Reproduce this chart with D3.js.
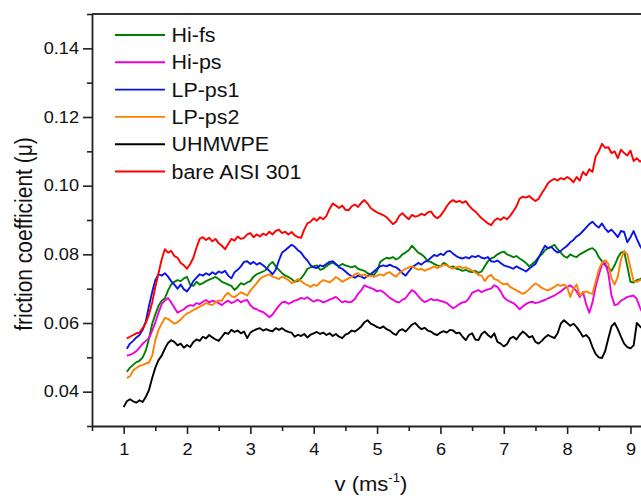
<!DOCTYPE html>
<html>
<head>
<meta charset="utf-8">
<script src="https://cdn.jsdelivr.net/npm/d3@7"></script>
<style>
  body { margin: 0; background: #fff; }
  svg { display: block; font-family: "Liberation Sans", Arial, sans-serif; }
</style>
</head>
<body>
<svg id="chart" width="641" height="496"></svg>
<script>
// sliding speed grid (ms-1): 1.00 .. 9.20, one reading every 0.05
const speed = d3.range(0, 165).map(i => +(1 + i * 0.05).toFixed(2));

const seriesNames = ["Hi-fs", "Hi-ps", "LP-ps1", "LP-ps2", "UHMWPE", "bare AISI 301"];
const seriesColors = ["#008000", "#ee00dd", "#0a14e6", "#ff8000", "#000000", "#ff0000"];

const xTicks = [1, 2, 3, 4, 5, 6, 7, 8, 9];
const xMinor = [0.5, 1.5, 2.5, 3.5, 4.5, 5.5, 6.5, 7.5, 8.5, 9.5];
const yTicks = [0.04, 0.06, 0.08, 0.10, 0.12, 0.14];
const yMinor = [0.03, 0.05, 0.07, 0.09, 0.11, 0.13, 0.15];

// friction coefficient (first slot is v = 1.00, null where no data)
const hiFs = [null,
  0.0458,0.0470,0.0478,0.0486,0.0490,0.0500,0.0520,0.0555,0.0598,0.0625,
  0.0650,0.0665,0.0672,0.0695,0.0712,0.0720,0.0725,0.0722,0.0730,0.0734,
  0.0712,0.0708,0.0720,0.0712,0.0716,0.0722,0.0726,0.0730,0.0734,0.0728,
  0.0720,0.0716,0.0712,0.0708,0.0696,0.0705,0.0716,0.0712,0.0718,0.0722,
  0.0735,0.0742,0.0746,0.0750,0.0755,0.0770,0.0778,0.0765,0.0755,0.0745,
  0.0738,0.0734,0.0728,0.0720,0.0722,0.0730,0.0742,0.0758,0.0762,0.0765,
  0.0768,0.0755,0.0758,0.0765,0.0772,0.0776,0.0770,0.0766,0.0772,0.0768,
  0.0765,0.0762,0.0766,0.0758,0.0755,0.0752,0.0745,0.0742,0.0740,0.0752,
  0.0778,0.0785,0.0790,0.0788,0.0792,0.0785,0.0790,0.0800,0.0805,0.0812,
  0.0825,0.0815,0.0805,0.0800,0.0792,0.0780,0.0778,0.0772,0.0768,0.0765,
  0.0775,0.0770,0.0762,0.0765,0.0758,0.0756,0.0752,0.0755,0.0750,0.0748,
  0.0752,0.0746,0.0750,0.0765,0.0780,0.0788,0.0792,0.0800,0.0805,0.0808,
  0.0800,0.0796,0.0792,0.0795,0.0788,0.0782,0.0775,0.0765,0.0772,0.0780,
  0.0792,0.0800,0.0812,0.0818,0.0822,0.0828,0.0815,0.0805,0.0795,0.0790,
  0.0800,0.0795,0.0792,0.0800,0.0805,0.0810,0.0815,0.0818,0.0810,0.0792,
  0.0780,0.0768,0.0760,0.0752,0.0768,0.0790,0.0805,0.0808,0.0765,0.0720,
  0.0718,0.0725,0.0728,0.0732];

const hiPs = [null,
  0.0505,0.0507,0.0512,0.0518,0.0528,0.0540,0.0548,0.0556,0.0578,0.0602,
  0.0630,0.0655,0.0665,0.0673,0.0660,0.0645,0.0630,0.0635,0.0640,0.0648,
  0.0652,0.0650,0.0658,0.0655,0.0662,0.0667,0.0660,0.0665,0.0662,0.0658,
  0.0652,0.0660,0.0665,0.0658,0.0662,0.0668,0.0660,0.0665,0.0667,0.0652,
  0.0643,0.0640,0.0635,0.0632,0.0625,0.0617,0.0625,0.0638,0.0650,0.0660,
  0.0662,0.0656,0.0660,0.0665,0.0668,0.0673,0.0670,0.0675,0.0668,0.0662,
  0.0667,0.0665,0.0660,0.0664,0.0668,0.0672,0.0676,0.0668,0.0660,0.0664,
  0.0660,0.0662,0.0670,0.0685,0.0695,0.0710,0.0705,0.0702,0.0698,0.0692,
  0.0695,0.0690,0.0682,0.0673,0.0668,0.0662,0.0660,0.0668,0.0672,0.0685,
  0.0696,0.0690,0.0678,0.0668,0.0661,0.0665,0.0670,0.0666,0.0668,0.0664,
  0.0662,0.0658,0.0650,0.0643,0.0648,0.0655,0.0660,0.0662,0.0672,0.0688,
  0.0692,0.0696,0.0690,0.0694,0.0698,0.0700,0.0710,0.0705,0.0692,0.0675,
  0.0667,0.0662,0.0658,0.0650,0.0640,0.0648,0.0655,0.0660,0.0662,0.0658,
  0.0660,0.0664,0.0667,0.0672,0.0676,0.0680,0.0686,0.0692,0.0700,0.0705,
  0.0710,0.0702,0.0692,0.0676,0.0690,0.0655,0.0630,0.0660,0.0705,0.0740,
  0.0770,0.0775,0.0745,0.0680,0.0652,0.0655,0.0665,0.0670,0.0676,0.0678,
  0.0680,0.0670,0.0645,0.0625];

const lpPs1 = [null,
  0.0525,0.0540,0.0548,0.0558,0.0565,0.0580,0.0605,0.0650,0.0690,0.0725,
  0.0742,0.0738,0.0745,0.0735,0.0722,0.0712,0.0700,0.0712,0.0698,0.0692,
  0.0705,0.0722,0.0732,0.0742,0.0738,0.0745,0.0740,0.0748,0.0742,0.0750,
  0.0746,0.0752,0.0738,0.0730,0.0748,0.0755,0.0765,0.0778,0.0780,0.0772,
  0.0778,0.0770,0.0775,0.0768,0.0760,0.0752,0.0742,0.0755,0.0782,0.0805,
  0.0812,0.0820,0.0828,0.0822,0.0812,0.0805,0.0792,0.0782,0.0768,0.0762,
  0.0760,0.0768,0.0765,0.0772,0.0778,0.0780,0.0772,0.0762,0.0758,0.0750,
  0.0742,0.0736,0.0732,0.0738,0.0735,0.0730,0.0738,0.0742,0.0750,0.0758,
  0.0765,0.0768,0.0765,0.0770,0.0765,0.0762,0.0755,0.0745,0.0738,0.0750,
  0.0762,0.0768,0.0775,0.0770,0.0778,0.0782,0.0790,0.0798,0.0795,0.0802,
  0.0798,0.0808,0.0810,0.0802,0.0795,0.0790,0.0788,0.0792,0.0788,0.0795,
  0.0792,0.0796,0.0790,0.0788,0.0792,0.0780,0.0778,0.0782,0.0775,0.0768,
  0.0765,0.0762,0.0758,0.0765,0.0760,0.0755,0.0750,0.0758,0.0765,0.0772,
  0.0790,0.0808,0.0825,0.0818,0.0822,0.0812,0.0805,0.0810,0.0818,0.0825,
  0.0835,0.0842,0.0852,0.0858,0.0868,0.0878,0.0888,0.0895,0.0885,0.0878,
  0.0890,0.0875,0.0865,0.0872,0.0862,0.0850,0.0868,0.0865,0.0835,0.0850,
  0.0868,0.0845,0.0825,0.0810];

const lpPs2 = [null,
  0.0440,0.0445,0.0462,0.0469,0.0475,0.0478,0.0482,0.0485,0.0505,0.0550,
  0.0580,0.0598,0.0615,0.0612,0.0605,0.0598,0.0602,0.0610,0.0620,0.0628,
  0.0632,0.0638,0.0642,0.0648,0.0652,0.0658,0.0655,0.0652,0.0660,0.0666,
  0.0665,0.0680,0.0688,0.0678,0.0675,0.0682,0.0690,0.0685,0.0680,0.0695,
  0.0705,0.0716,0.0728,0.0735,0.0738,0.0742,0.0735,0.0732,0.0728,0.0735,
  0.0731,0.0725,0.0716,0.0720,0.0728,0.0722,0.0715,0.0710,0.0705,0.0712,
  0.0708,0.0718,0.0725,0.0722,0.0718,0.0725,0.0734,0.0728,0.0720,0.0725,
  0.0730,0.0735,0.0742,0.0745,0.0738,0.0742,0.0735,0.0738,0.0734,0.0738,
  0.0742,0.0738,0.0745,0.0748,0.0740,0.0735,0.0745,0.0752,0.0758,0.0762,
  0.0765,0.0760,0.0755,0.0758,0.0752,0.0756,0.0760,0.0765,0.0760,0.0765,
  0.0770,0.0768,0.0762,0.0758,0.0762,0.0765,0.0760,0.0762,0.0758,0.0752,
  0.0748,0.0740,0.0738,0.0722,0.0735,0.0740,0.0728,0.0725,0.0718,0.0712,
  0.0715,0.0705,0.0700,0.0695,0.0690,0.0685,0.0690,0.0698,0.0708,0.0715,
  0.0710,0.0702,0.0698,0.0695,0.0700,0.0705,0.0712,0.0708,0.0712,0.0705,
  0.0676,0.0700,0.0712,0.0680,0.0688,0.0692,0.0688,0.0685,0.0720,0.0755,
  0.0775,0.0783,0.0772,0.0730,0.0712,0.0735,0.0785,0.0810,0.0800,0.0760,
  0.0722,0.0720,0.0725,0.0728];

const uhmwpe = [0.0355,
  0.0372,0.0378,0.0372,0.0368,0.0375,0.0370,0.0385,0.0405,0.0440,0.0470,
  0.0492,0.0505,0.0525,0.0542,0.0550,0.0545,0.0535,0.0540,0.0528,0.0536,
  0.0530,0.0545,0.0552,0.0548,0.0560,0.0555,0.0565,0.0558,0.0552,0.0548,
  0.0560,0.0572,0.0568,0.0580,0.0574,0.0578,0.0570,0.0575,0.0556,0.0572,
  0.0578,0.0582,0.0585,0.0578,0.0582,0.0578,0.0576,0.0585,0.0580,0.0585,
  0.0578,0.0574,0.0572,0.0560,0.0566,0.0562,0.0568,0.0558,0.0566,0.0570,
  0.0574,0.0568,0.0572,0.0565,0.0570,0.0562,0.0568,0.0560,0.0556,0.0566,
  0.0570,0.0578,0.0575,0.0582,0.0590,0.0602,0.0608,0.0598,0.0594,0.0588,
  0.0585,0.0590,0.0582,0.0578,0.0570,0.0565,0.0578,0.0582,0.0575,0.0585,
  0.0595,0.0600,0.0590,0.0582,0.0586,0.0578,0.0575,0.0568,0.0565,0.0572,
  0.0576,0.0572,0.0580,0.0578,0.0570,0.0572,0.0560,0.0550,0.0565,0.0570,
  0.0552,0.0550,0.0568,0.0575,0.0565,0.0558,0.0570,0.0545,0.0540,0.0532,
  0.0538,0.0555,0.0560,0.0552,0.0565,0.0575,0.0568,0.0558,0.0562,0.0545,
  0.0540,0.0548,0.0558,0.0565,0.0560,0.0556,0.0570,0.0598,0.0608,0.0600,
  0.0592,0.0598,0.0588,0.0575,0.0560,0.0565,0.0555,0.0530,0.0510,0.0500,
  0.0498,0.0518,0.0555,0.0590,0.0600,0.0582,0.0560,0.0540,0.0530,0.0526,
  0.0535,0.0600,0.0590,0.0582];

const bareAisi301 = [null,
  0.0555,0.0560,0.0565,0.0570,0.0572,0.0585,0.0600,0.0625,0.0660,0.0705,
  0.0745,0.0785,0.0815,0.0805,0.0810,0.0795,0.0790,0.0775,0.0768,0.0758,
  0.0772,0.0790,0.0820,0.0845,0.0850,0.0842,0.0848,0.0838,0.0845,0.0832,
  0.0825,0.0815,0.0830,0.0845,0.0840,0.0852,0.0845,0.0848,0.0858,0.0862,
  0.0850,0.0858,0.0852,0.0860,0.0856,0.0866,0.0858,0.0868,0.0872,0.0862,
  0.0866,0.0858,0.0865,0.0855,0.0850,0.0848,0.0872,0.0890,0.0895,0.0905,
  0.0898,0.0908,0.0902,0.0912,0.0932,0.0948,0.0942,0.0935,0.0942,0.0930,
  0.0928,0.0940,0.0945,0.0938,0.0950,0.0958,0.0948,0.0935,0.0928,0.0922,
  0.0918,0.0914,0.0908,0.0898,0.0888,0.0895,0.0912,0.0920,0.0910,0.0902,
  0.0915,0.0910,0.0912,0.0918,0.0914,0.0922,0.0925,0.0912,0.0905,0.0912,
  0.0925,0.0940,0.0952,0.0958,0.0952,0.0956,0.0950,0.0955,0.0942,0.0932,
  0.0925,0.0915,0.0905,0.0898,0.0890,0.0885,0.0898,0.0905,0.0900,0.0908,
  0.0902,0.0912,0.0925,0.0940,0.0962,0.0968,0.0965,0.0970,0.0962,0.0955,
  0.0962,0.0978,0.0992,0.1008,0.1015,0.1020,0.1015,0.1022,0.1018,0.1025,
  0.1020,0.1010,0.1025,0.1015,0.1040,0.1030,0.1048,0.1040,0.1085,0.1100,
  0.1122,0.1110,0.1112,0.1095,0.1100,0.1080,0.1105,0.1095,0.1088,0.1102,
  0.1072,0.1080,0.1070,0.1075];

const seriesValues = [hiFs, hiPs, lpPs1, lpPs2, uhmwpe, bareAisi301];

// layout
const plotLeft = 92, plotTop = 14, plotBottom = 426;
const stretch = 1.1; // the original artwork is slightly wider than tall

const svg = d3.select("#chart");

const x = d3.scaleLinear().domain([0.5, 9.5]).range([plotLeft, plotLeft + 9 * 63.35]);
const y = d3.scaleLinear().domain([0.03, 0.15]).range([plotBottom, plotTop]);

// frame: top line
svg.append("line")
  .attr("x1", plotLeft).attr("x2", x(9.5))
  .attr("y1", plotTop).attr("y2", plotTop)
  .attr("stroke", "#333").attr("stroke-width", 1.8);

// minor ticks first
svg.append("g")
  .attr("transform", "translate(0," + plotBottom + ")")
  .call(d3.axisBottom(x).tickValues(xMinor).tickSize(5).tickFormat(""))
  .call(g => g.select(".domain").remove());
svg.append("g")
  .attr("transform", "translate(" + plotLeft + ",0)")
  .call(d3.axisLeft(y).tickValues(yMinor).tickSize(5).tickFormat(""))
  .call(g => g.select(".domain").remove());

// major axes
let xAxis = svg.append("g")
  .attr("transform", "translate(0," + plotBottom + ")")
  .call(d3.axisBottom(x).tickValues(xTicks).tickSize(8).tickSizeOuter(0).tickFormat(d3.format("d")));
let yAxis = svg.append("g")
  .attr("transform", "translate(" + plotLeft + ",0)")
  .call(d3.axisLeft(y).tickValues(yTicks).tickSize(9).tickSizeOuter(0).tickFormat(d3.format(".2f")));

svg.selectAll(".tick line").attr("stroke", "#222").attr("stroke-width", 1.6);
svg.selectAll(".domain").attr("stroke", "#222").attr("stroke-width", 1.8);

xAxis.selectAll("text")
  .attr("y", 17)
  .attr("font-size", 16.5)
  .attr("fill", "#111")
  .attr("font-family", "Liberation Sans, Arial, sans-serif")
  .attr("transform", "scale(" + stretch + ",1)");
yAxis.selectAll("text")
  .attr("x", -13 / stretch)
  .attr("font-size", 16.5)
  .attr("fill", "#111")
  .attr("font-family", "Liberation Sans, Arial, sans-serif")
  .attr("transform", "scale(" + stretch + ",1)");

// data lines
svg.append("clipPath").attr("id", "plotClip")
  .append("rect")
  .attr("x", plotLeft).attr("y", plotTop)
  .attr("width", x(9.5) - plotLeft).attr("height", plotBottom - plotTop);

const line = d3.line()
  .defined(d => d[1] != null)
  .x(d => x(d[0]))
  .y(d => y(d[1]));

svg.append("g").attr("clip-path", "url(#plotClip)")
  .selectAll("path")
  .data(seriesValues)
  .join("path")
  .attr("d", vals => line(speed.map((v, i) => [v, vals[i]])))
  .attr("fill", "none")
  .attr("stroke", (d, i) => seriesColors[i])
  .attr("stroke-width", 1.9)
  .attr("stroke-linejoin", "round");

// legend
const legend = svg.append("g");
seriesNames.forEach((name, i) => {
  let ly = 35 + i * 27.3;
  legend.append("line")
    .attr("x1", 115).attr("x2", 165)
    .attr("y1", ly).attr("y2", ly)
    .attr("stroke", seriesColors[i]).attr("stroke-width", 1.9);
  legend.append("text")
    .attr("transform", "translate(171.5," + ly + ") scale(" + stretch + ",1)")
    .attr("dy", "0.36em")
    .attr("font-size", 19.5)
    .attr("fill", "#111")
    .text(name);
});

// axis titles
const xTitle = svg.append("text")
  .attr("transform", "translate(371,491) scale(" + stretch + ",1)")
  .attr("text-anchor", "middle")
  .attr("font-size", 20)
  .attr("fill", "#111");
xTitle.append("tspan").text("v (ms");
xTitle.append("tspan").attr("font-size", 12).attr("dy", -9).text("-1");
xTitle.append("tspan").attr("dy", 9).text(")");

svg.append("text")
  .attr("transform", "translate(31.5,234) scale(" + stretch + ",1) rotate(-90)")
  .attr("text-anchor", "middle")
  .attr("font-size", 21)
  .attr("fill", "#111")
  .text("friction coefficient (\u03bc)");
</script>
</body>
</html>
